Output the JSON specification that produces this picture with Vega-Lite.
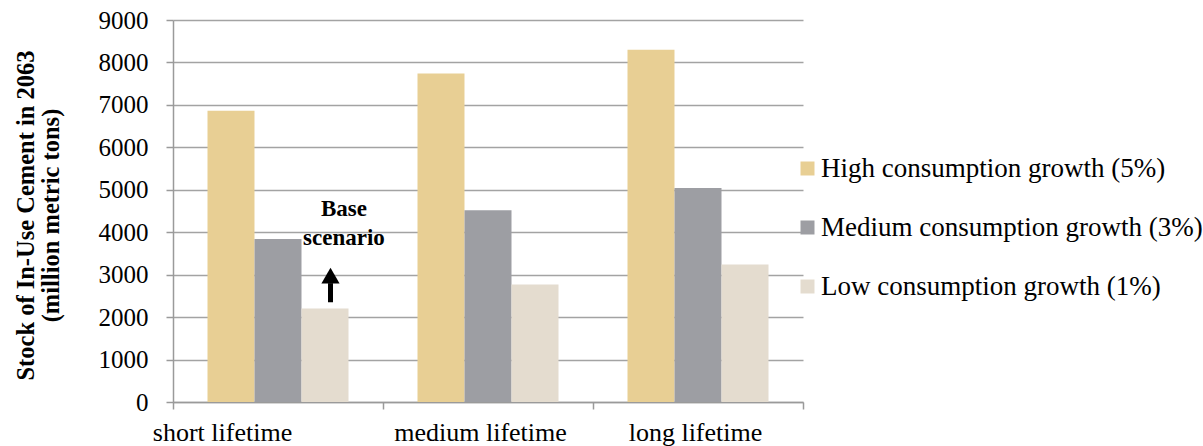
{
  "$schema": "https://vega.github.io/schema/vega-lite/v6.json",
  "autosize": "none",
  "width": 630,
  "height": 382,
  "padding": {"left": 173, "top": 20, "right": 400, "bottom": 44},
  "background": "white",
  "config": {
    "font": "Liberation Serif",
    "view": {"stroke": null},
    "axis": {
      "domainColor": "#9a9a9a",
      "tickColor": "#9a9a9a",
      "gridColor": "#a3a3a3",
      "labelColor": "#000000",
      "titleColor": "#000000",
      "labelFont": "Liberation Serif",
      "titleFont": "Liberation Serif"
    }
  },
  "datasets": {
    "stock": [
      {"lifetime": "short lifetime", "growth": "High consumption growth (5%)", "stock": 6860},
      {"lifetime": "short lifetime", "growth": "Medium consumption growth (3%)", "stock": 3840},
      {"lifetime": "short lifetime", "growth": "Low consumption growth (1%)", "stock": 2200},
      {"lifetime": "medium lifetime", "growth": "High consumption growth (5%)", "stock": 7740},
      {"lifetime": "medium lifetime", "growth": "Medium consumption growth (3%)", "stock": 4520},
      {"lifetime": "medium lifetime", "growth": "Low consumption growth (1%)", "stock": 2770},
      {"lifetime": "long lifetime", "growth": "High consumption growth (5%)", "stock": 8300},
      {"lifetime": "long lifetime", "growth": "Medium consumption growth (3%)", "stock": 5040},
      {"lifetime": "long lifetime", "growth": "Low consumption growth (1%)", "stock": 3240}
    ],
    "note": [
      {"lifetime": "short lifetime", "text": "Base", "at": 4380},
      {"lifetime": "short lifetime", "text": "scenario", "at": 3700}
    ],
    "arrow": [
      {"lifetime": "short lifetime", "from": 2350, "to": 2800, "head": 2975}
    ]
  },
  "encoding": {
    "x": {
      "field": "lifetime",
      "type": "nominal",
      "sort": ["short lifetime", "medium lifetime", "long lifetime"],
      "scale": {"paddingInner": 0, "paddingOuter": 0},
      "axis": {
        "title": null,
        "labelAngle": 0,
        "labelFontSize": 26,
        "labelBaseline": "alphabetic",
        "labelPadding": 31,
        "labelOffset": {
          "condition": [
            {"test": "datum.value === 'short lifetime'", "value": -56},
            {"test": "datum.value === 'medium lifetime'", "value": -8}
          ],
          "value": -3
        },
        "tickSize": 7,
        "tickWidth": 1.5,
        "domainWidth": 1.5,
        "tickBand": "extent",
        "grid": false
      }
    }
  },
  "layer": [
    {
      "data": {"name": "stock"},
      "mark": {"type": "bar"},
      "encoding": {
        "xOffset": {
          "field": "growth",
          "type": "nominal",
          "sort": ["High consumption growth (5%)", "Medium consumption growth (3%)", "Low consumption growth (1%)"],
          "scale": {"paddingInner": 0, "paddingOuter": 0.734}
        },
        "y": {
          "field": "stock",
          "type": "quantitative",
          "scale": {"domain": [0, 9000], "nice": false},
          "axis": {
            "values": [0, 1000, 2000, 3000, 4000, 5000, 6000, 7000, 8000, 9000],
            "format": "d",
            "labelFontSize": 25,
            "labelPadding": 18,
            "tickSize": 7,
            "tickWidth": 1.5,
            "domainWidth": 1.5,
            "grid": true,
            "gridWidth": 1.5,
            "title": ["Stock of In-Use Cement in 2063", "(million metric tons)"],
            "titleFontSize": 24.5,
            "titleFontWeight": "bold",
            "titleLineHeight": 25,
            "titleAngle": 270,
            "titleBaseline": "middle",
            "titleAlign": "center",
            "titleX": -147,
            "titleY": 195
          }
        },
        "color": {
          "field": "growth",
          "type": "nominal",
          "sort": ["High consumption growth (5%)", "Medium consumption growth (3%)", "Low consumption growth (1%)"],
          "scale": {
            "domain": ["High consumption growth (5%)", "Medium consumption growth (3%)", "Low consumption growth (1%)"],
            "range": ["#e8cf94", "#9d9ea3", "#e4dccf"]
          },
          "legend": {
            "title": null,
            "orient": "none",
            "legendX": 621,
            "legendY": 135,
            "padding": 0,
            "symbolType": "square",
            "symbolSize": 196,
            "symbolStrokeWidth": 0,
            "labelFontSize": 27,
            "labelFont": "Liberation Serif",
            "labelColor": "#000000",
            "labelOffset": 0,
            "labelLimit": 400,
            "rowPadding": 31
          }
        }
      }
    },
    {
      "data": {"name": "arrow"},
      "mark": {"type": "rule", "color": "#000000", "strokeWidth": 5},
      "encoding": {
        "x": {"field": "lifetime", "type": "nominal", "bandPosition": 0.75},
        "y": {"field": "from", "type": "quantitative"},
        "y2": {"field": "to"}
      }
    },
    {
      "data": {"name": "arrow"},
      "mark": {"type": "point", "shape": "triangle-up", "filled": true, "color": "#000000", "size": 330, "opacity": 1},
      "encoding": {
        "x": {"field": "lifetime", "type": "nominal", "bandPosition": 0.75},
        "y": {"field": "head", "type": "quantitative"}
      }
    },
    {
      "data": {"name": "note"},
      "mark": {"type": "text", "font": "Liberation Serif", "fontWeight": "bold", "fontSize": 23, "baseline": "alphabetic", "align": "center", "color": "#000000"},
      "encoding": {
        "x": {"field": "lifetime", "type": "nominal", "bandPosition": 0.814},
        "y": {"field": "at", "type": "quantitative"},
        "text": {"field": "text"}
      }
    }
  ]
}
